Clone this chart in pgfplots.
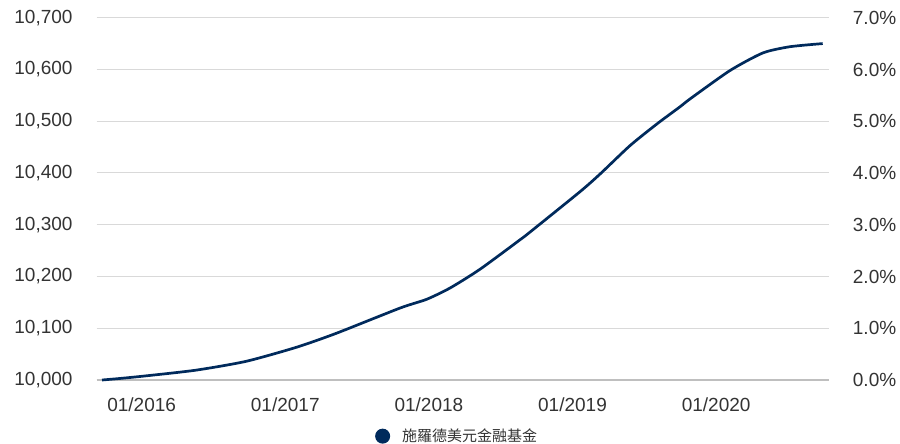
\documentclass[border=0pt]{standalone}
\usepackage{pgfplots}
\pgfplotsset{compat=1.18}
\usepackage{fontspec}
\setmainfont{Liberation Sans}
\newfontfamily\cjk{Noto Sans CJK TC}
\definecolor{navy}{RGB}{0,42,92}
\definecolor{txt}{RGB}{51,51,51}
\definecolor{gridc}{RGB}{217,217,217}
\definecolor{basec}{RGB}{191,191,191}
\begin{document}
\begin{tikzpicture}
\path[use as bounding box] (0,0) rectangle (900bp,444bp);
\begin{axis}[
  at={(96.7bp,64bp)}, anchor=south west,
  scale only axis, width=732.6bp, height=362.3bp,
  xmin=2015.687, xmax=2020.788,
  ymin=10000, ymax=10700,
  xtick={2016,2017,2018,2019,2020},
  xticklabels={01/2016,01/2017,01/2018,01/2019,01/2020},
  ytick={10000,10100,...,10700},
  scaled y ticks=false,
  axis line style={draw=none},
  major tick style={draw=none},
  ymajorgrids,
  grid style={color=gridc, line width=1bp},
  extra y ticks={10000}, extra y tick labels={},
  extra y tick style={grid style={color=basec, line width=1.2bp}, major tick style={draw=none}},
  /pgf/number format/assume math mode=true,
  yticklabel={\pgfmathprintnumber[fixed,precision=0,1000 sep={,}]{\tick}},
  ticklabel style={font=\fontsize{19bp}{23bp}\selectfont, text=txt, inner sep=0pt},
  xticklabel style={anchor=center, yshift=-25bp},
  yticklabel style={anchor=east, xshift=-24bp},
  clip=false,
  legend style={at={(0.492,-0.155)}, anchor=center, draw=none, fill=none,
    font=\fontsize{15bp}{18bp}\selectfont\cjk, text=txt, inner sep=0pt},
  legend image code/.code={\fill[navy, draw=none] (0,0) circle (7.5bp); \path[draw=none] (-7.5bp,0) -- (17.5bp,0);},
]
\addplot[navy, line width=2.7bp, smooth, tension=0.4] table {
x y
2015.724 10000
2015.850 10003
2016.030 10008
2016.378 10019
2016.726 10036
2017.075 10063
2017.353 10090
2017.799 10139
2017.985 10156
2018.149 10178
2018.356 10214
2018.635 10271
2018.705 10286
2019.053 10364
2019.192 10398
2019.401 10453
2019.589 10495
2019.749 10528
2019.818 10543
2020.097 10598
2020.326 10632
2020.515 10644
2020.742 10650
};
\addlegendentry{施羅德美元金融基金}
\end{axis}
\begin{axis}[
  at={(96.7bp,64bp)}, anchor=south west,
  scale only axis, width=732.6bp, height=362.3bp,
  xmin=2015.687, xmax=2020.788,
  ymin=0, ymax=7,
  ytick={0,1,...,7},
  hide x axis,
  axis y line*=right,
  y axis line style={draw=none},
  major tick style={draw=none},
  /pgf/number format/assume math mode=true,
  yticklabel={\pgfmathprintnumber[fixed,fixed zerofill,precision=1]{\tick}\%},
  ticklabel style={font=\fontsize{19bp}{23bp}\selectfont, text=txt, inner sep=0pt},
  yticklabel style={anchor=west, xshift=23.4bp},
]
\addplot[draw=none] coordinates {(2016,0)};
\end{axis}
\end{tikzpicture}
\end{document}
